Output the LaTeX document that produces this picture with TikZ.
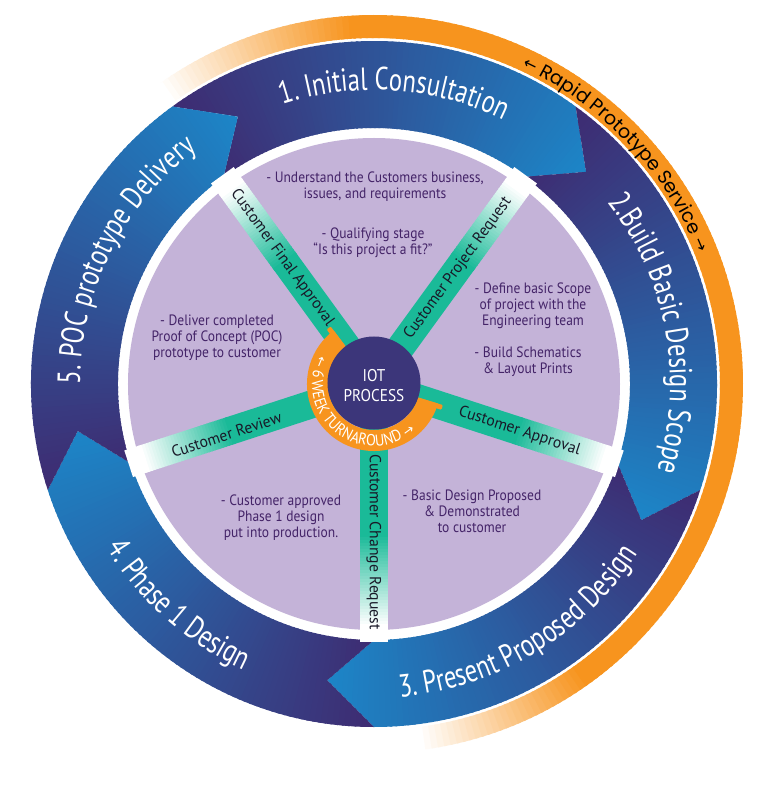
\documentclass[tikz,border=0pt]{standalone}
\usepackage{fontspec}
\setmainfont{PT Sans}
\newfontfamily\ringf{PT Sans}[FakeStretch=0.77]
\newfontfamily\innerf{PT Sans}[FakeStretch=0.9]
\newfontfamily\spokef{PT Sans}[FakeStretch=0.98]
\newfontfamily\rapidf{Poppins}
\newfontfamily\arrowf{DejaVu Sans}
\usetikzlibrary{decorations.text}
\definecolor{dpurple}{RGB}{62,44,114}
\definecolor{lblue}{RGB}{28,134,200}
\definecolor{orng}{RGB}{247,148,30}
\definecolor{tealc}{RGB}{26,186,152}
\definecolor{lav}{RGB}{196,179,216}
\definecolor{cpurple}{RGB}{60,54,122}
\definecolor{txtp}{RGB}{68,36,104}
\definecolor{spoketxt}{RGB}{25,25,40}
\newcommand{\ringtxt}{\ringf\fontsize{32}{32}\selectfont}
\newcommand{\rapidtxt}{\rapidf\fontsize{19}{19}\selectfont}
\newcommand{\rapidarr}{\arrowf\fontsize{16}{16}\selectfont}
\newcommand{\weektxt}{\innerf\fontsize{16}{16}\selectfont}
\newcommand{\weekarr}{\arrowf\fontsize{13}{13}\selectfont}
\newcommand{\ringseg}[1]{%
  \pgfmathsetmacro\segA{#1}%
  \pgfmathsetmacro\segB{#1-72}%
  \pgfmathsetmacro\segT{#1-81}%
  \pgfmathsetmacro\segN{#1-9}%
  \begin{scope}
    \clip (\segA:343) arc[start angle=\segA, end angle=\segB, radius=343]
      -- (\segT:300) -- (\segB:256) arc[start angle=\segB, end angle=\segA, radius=256]
      -- (\segN:300) -- cycle;
    \foreach \i in {0,...,81}{
      \pgfmathsetmacro\tt{\i/81*100}
      \pgfmathsetmacro\angP{\segA-\i}
      \pgfmathsetmacro\angQ{\segA-\i-1.4}
      \fill[lblue!\tt!dpurple] (\angP:250) -- (\angP:350) -- (\angQ:350) -- (\angQ:250) -- cycle;
    }
  \end{scope}}
\tikzset{
  ringlabel/.style={decorate, decoration={text along path, text align=center, text color=white}},
  sectortext/.style={font=\innerf\fontsize{15}{16}\selectfont, text=txtp, align=center, inner sep=0pt},
  spoketext/.style={font=\spokef\fontsize{16}{16}\selectfont, text=spoketxt, inner sep=0pt},
}
\begin{document}
\begin{tikzpicture}[x=1pt,y=1pt]
\fill[white] (-374,-406) rectangle (394,384);
\useasboundingbox (-374,-406) rectangle (394,384);

% outer orange arc with faded ends
\foreach \i in {-83,...,125}{
  \pgfmathsetmacro\tt{max(0,min(100,min((125-\i)/32*100,(\i+83)/28*100)))}
  \pgfmathsetmacro\angQ{\i+1.4}
  \fill[orng!\tt!white] (\i:346) -- (\i:369) -- (\angQ:369) -- (\angQ:346) -- cycle;
}

% blue arrow ring
\ringseg{126}
\ringseg{54}
\ringseg{-18}
\ringseg{-90}
\ringseg{-162}

% ring labels
\path[ringlabel, decoration={text={|\ringtxt|1. Initial Consultation}}]
  (136:294) arc[start angle=136, end angle=36, radius=294];
\path[ringlabel, decoration={text={|\ringtxt|2.Build Basic Design Scope}}]
  (60.5:296) arc[start angle=60.5, end angle=-39.5, radius=296];
\path[ringlabel, decoration={text={|\ringtxt|3. Present Proposed Design}}]
  (-109:314) arc[start angle=-109, end angle=-9, radius=314];
\path[ringlabel, decoration={text={|\ringtxt|4. Phase 1 Design}}]
  (-181.5:314) arc[start angle=-181.5, end angle=-81.5, radius=314];
\path[ringlabel, decoration={text={|\ringtxt|5. POC prototype Delivery}}]
  (203.5:294) arc[start angle=203.5, end angle=103.5, radius=294];
\path[decorate, decoration={text along path, text align=center, text color=black,
  text={|\rapidarr|←|\rapidtxt| Rapid Prototype Service |\rapidarr|→}}]
  (93.5:350) arc[start angle=93.5, end angle=-6.5, radius=350];

% lavender disc
\fill[lav] (0,0) circle (246);

% spokes
\foreach \a in {126,54,-18,-90,-162}{
  \begin{scope}[rotate=\a]
    \fill[tealc] (0,-14) rectangle (152,14);
    \foreach \j in {0,...,30}{
      \pgfmathsetmacro\tt{100-\j/30*100}
      \fill[tealc!\tt!white] (150+\j*3,-14) rectangle (154+\j*3,14);
    }
    \fill[white] (242,-14) rectangle (258,14);
  \end{scope}
}

% sector texts
\node[sectortext] (t1) at (1,197) {- Understand the Customers business,\\ issues, and requirements};
\node[sectortext] (t2) at (-1,141) {- Qualifying stage\\ “Is this project a fit?”};
\node[sectortext] (t3) at (159,78) {- Define basic Scope\\ of project with the\\ Engineering team};
\node[sectortext] (t4) at (154,22) {- Build Schematics\\ \& Layout Prints};
\node[sectortext] (t5) at (98,-127) {- Basic Design Proposed\\ \& Demonstrated\\ to customer};
\node[sectortext] (t6) at (-93,-134) {- Customer approved\\ Phase 1 design\\ put into production.};
\node[sectortext] (t7) at (-157,46) {- Deliver completed\\ Proof of Concept (POC)\\ prototype to customer};

% spoke labels
\node[spoketext, rotate=-54] (s1) at (126:156) {Customer Final Approval};
\node[spoketext, rotate=54] (s2) at (54:143) {Customer Project Request};
\node[spoketext, rotate=-18] (s3) at (-18:153) {Customer Approval};
\node[spoketext, rotate=-90] (s4) at (-90:158) {Customer Change Request};
\node[spoketext, rotate=18] (s5) at (-161:156) {Customer Review};

% center orange arc
\fill[orng] (127:46) arc[start angle=127, end angle=343, radius=46]
  -- (343:67) arc[start angle=343, end angle=127, radius=67] -- cycle;
\begin{scope}[rotate=127]
  \fill[orng, rounded corners=1pt] (46,0) rectangle (72,5);
\end{scope}
\begin{scope}[rotate=-17]
  \fill[orng, rounded corners=1pt] (46,-5) rectangle (72,0);
\end{scope}
\path[decorate, decoration={text along path, text align=center, text color=white,
  text={|\weekarr|←|\weektxt| 6 WEEK TURNAROUND |\weekarr|→}}]
  (132:62) arc[start angle=132, end angle=332, radius=62];

% center circle
\node[circle, fill=cpurple, minimum size=93pt, inner sep=0pt] (core) at (0,1) {};
\node[font=\innerf\fontsize{17}{20}\selectfont, text=white, align=center, inner sep=0pt] (coretext) at (0,-2) {IOT\\PROCESS};
\end{tikzpicture}
\end{document}
